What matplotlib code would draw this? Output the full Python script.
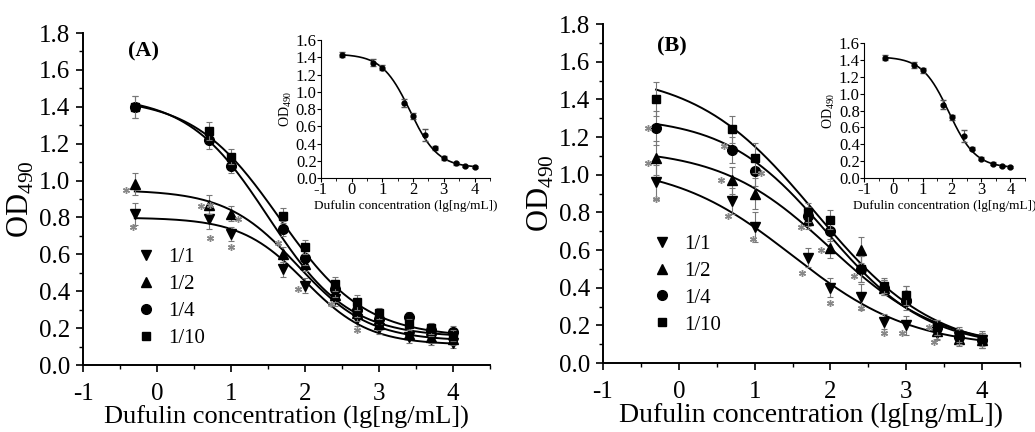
import matplotlib
matplotlib.use('Agg')
import matplotlib.pyplot as plt
import numpy as np
from matplotlib.ticker import MultipleLocator

plt.rcParams['font.family'] = ['Liberation Serif', 'DejaVu Serif']
plt.rcParams['mathtext.fontset'] = 'custom'
plt.rcParams['mathtext.rm'] = 'Liberation Serif'
plt.rcParams['axes.unicode_minus'] = False

# lg of dufulin concentration (ng/mL)
lg_conc = [-0.3, 0.7, 1.0, 1.7, 2.0, 2.4, 2.7, 3.0, 3.4, 3.7, 4.0]
dilutions = ['1/1', '1/2', '1/4', '1/10']
markers = ['v', '^', 'o', 's']

# panel A measured OD490
a_11 = [0.82, 0.79, 0.71, 0.52, 0.43, 0.36, 0.25, 0.20, 0.15, 0.14, 0.12]
a_12 = [0.98, 0.87, 0.82, 0.60, 0.55, 0.38, 0.28, 0.22, 0.17, 0.15, 0.14]
a_14 = [1.40, 1.22, 1.08, 0.74, 0.58, 0.41, 0.30, 0.25, 0.26, 0.19, 0.18]
a_110 = [1.40, 1.27, 1.13, 0.81, 0.64, 0.44, 0.34, 0.28, 0.22, 0.20, 0.16]
a_err = [0.06, 0.05, 0.04, 0.04, 0.04, 0.04, 0.04, 0.03, 0.03, 0.03, 0.03]

# panel B measured OD490
b_11 = [0.96, 0.86, 0.72, 0.56, 0.40, 0.35, 0.22, 0.20, 0.16, 0.14, 0.12]
b_12 = [1.09, 0.97, 0.90, 0.76, 0.61, 0.60, 0.40, 0.36, 0.17, 0.13, 0.12]
b_14 = [1.25, 1.13, 1.02, 0.78, 0.70, 0.50, 0.40, 0.33, 0.19, 0.14, 0.12]
b_110 = [1.40, 1.24, 1.09, 0.80, 0.76, 0.50, 0.41, 0.36, 0.19, 0.15, 0.13]
b_err = [0.09, 0.07, 0.08, 0.05, 0.05, 0.07, 0.04, 0.05, 0.04, 0.04, 0.04]

# four-parameter logistic fits: top, bottom, lg IC50, hill slope (1/1, 1/2, 1/4, 1/10)
a_top = [0.80, 0.95, 1.46, 1.45]
a_bottom = [0.11, 0.13, 0.15, 0.15]
a_logc = [2.0, 1.9, 1.5, 1.65]
a_hill = [1.0, 0.9, 0.8, 0.75]

b_top = [1.06, 1.14, 1.31, 1.55]
b_bottom = [0.08, 0.08, 0.08, 0.05]
b_logc = [1.5, 2.0, 1.95, 1.8]
b_hill = [0.55, 0.6, 0.65, 0.55]

# significance asterisks (x, y)
a_star_x = [-0.42, -0.32, 0.59, 0.71, 0.72, 1.0, 1.1, 1.64, 1.91, 2.35, 2.70]
a_star_y = [0.95, 0.75, 0.86, 0.69, 0.87, 0.64, 0.79, 0.66, 0.41, 0.33, 0.19]
b_star_x = [-0.41, -0.41, -0.30, 0.59, 0.56, 0.65, 1.09, 0.98, 1.61, 1.87, 1.62, 2.0, 2.31, 2.40, 2.70, 2.94, 3.30, 3.37]
b_star_y = [1.25, 1.06, 0.87, 1.15, 0.97, 0.78, 1.01, 0.66, 0.72, 0.60, 0.48, 0.32, 0.46, 0.29, 0.16, 0.16, 0.19, 0.11]

# inset standard curve
inset_od = [1.43, 1.34, 1.28, 0.87, 0.72, 0.50, 0.35, 0.23, 0.17, 0.14, 0.13]
inset_err = [0.03, 0.04, 0.03, 0.05, 0.03, 0.07, 0.02, 0.02, 0.02, 0.01, 0.01]
inset_fit = [1.44, 0.12, 1.9, 0.95]


def logistic(x, top, bottom, logc, hill):
    return bottom + (top - bottom) / (1 + 10 ** ((x - logc) * hill))


def main_panel(ax, series, err, tops, bottoms, logcs, hills, star_x, star_y, letter, letter_pos, leg_pos, xlab_size):
    xs = np.linspace(-0.3, 4.0, 200)
    for i in range(4):
        ax.plot(xs, logistic(xs, tops[i], bottoms[i], logcs[i], hills[i]), color='black', lw=1.4)
    handles = []
    for i in range(4):
        ax.errorbar(lg_conc, series[i], yerr=err, fmt='none', ecolor='#777777', elinewidth=0.8, capsize=2.5, capthick=0.8)
        h, = ax.plot(lg_conc, series[i], marker=markers[i], linestyle='none', color='black', markersize=7 if i < 3 else 6)
        handles.append(h)
    ax.plot(star_x, star_y, marker=(6, 2, 0), linestyle='none', color='#888888', markersize=5, mew=1)
    ax.set_xlim(-1, 4.5)
    ax.set_ylim(0, 1.8)
    ax.xaxis.set_major_locator(MultipleLocator(1))
    ax.xaxis.set_minor_locator(MultipleLocator(0.5))
    ax.yaxis.set_major_locator(MultipleLocator(0.2))
    ax.yaxis.set_minor_locator(MultipleLocator(0.1))
    ax.yaxis.set_major_formatter('{x:.1f}')
    for s in ['top', 'right']:
        ax.spines[s].set_visible(False)
    for s in ['left', 'bottom']:
        ax.spines[s].set_linewidth(1.4)
    ax.tick_params(which='major', length=5, width=1.2, labelsize=18)
    ax.tick_params(axis='y', which='major', pad=4)
    ax.tick_params(axis='x', which='major', pad=8)
    ax.tick_params(which='minor', length=3, width=1.0)
    ax.set_xlabel('Dufulin concentration (lg[ng/mL])', fontsize=xlab_size, labelpad=0)
    ax.set_ylabel(r'OD$_{\mathregular{490}}$', fontsize=22, labelpad=2)
    ax.text(letter_pos[0], letter_pos[1], letter, transform=ax.transAxes, fontsize=16, fontweight='bold')
    ax.legend(handles, dilutions, loc='upper left', bbox_to_anchor=leg_pos, frameon=False,
              fontsize=15, handletextpad=0.05, labelspacing=0.35, borderpad=0)


def inset_panel(ax):
    xs = np.linspace(-0.3, 4.0, 200)
    ax.plot(xs, logistic(xs, *inset_fit), color='black', lw=1.2)
    ax.errorbar(lg_conc, inset_od, yerr=inset_err, fmt='o', color='black', markersize=3.5,
                ecolor='#555555', elinewidth=0.8, capsize=2)
    ax.set_xlim(-1, 4.5)
    ax.set_ylim(0, 1.6)
    ax.xaxis.set_major_locator(MultipleLocator(1))
    ax.xaxis.set_minor_locator(MultipleLocator(0.5))
    ax.yaxis.set_major_locator(MultipleLocator(0.2))
    ax.yaxis.set_major_formatter('{x:.1f}')
    for s in ['top', 'right']:
        ax.spines[s].set_visible(False)
    ax.tick_params(which='major', length=3, width=0.8, labelsize=12, pad=0)
    ax.tick_params(which='minor', length=2, width=0.6)
    ax.set_xlabel('Dufulin concentration (lg[ng/mL])', fontsize=9.5, labelpad=1)
    ax.set_ylabel(r'OD$_{\mathregular{490}}$', fontsize=10, labelpad=1)
    ax.patch.set_alpha(0)


fig = plt.figure(figsize=(10.35, 4.32), dpi=100)
ax_a = fig.add_axes([0.0802, 0.155, 0.3932, 0.7685])
ax_b = fig.add_axes([0.5826, 0.1597, 0.4029, 0.7847])
main_panel(ax_a, [a_11, a_12, a_14, a_110], a_err, a_top, a_bottom, a_logc, a_hill,
           a_star_x, a_star_y, '(A)', (0.11, 0.93), (0.078, 0.385), 19)
main_panel(ax_b, [b_11, b_12, b_14, b_110], b_err, b_top, b_bottom, b_logc, b_hill,
           b_star_x, b_star_y, '(B)', (0.13, 0.92), (0.067, 0.41), 20)

in_a = fig.add_axes([0.310, 0.588, 0.1633, 0.319])
in_b = fig.add_axes([0.8348, 0.588, 0.1556, 0.312])
inset_panel(in_a)
inset_panel(in_b)

fig.savefig('out.png', dpi=100)
